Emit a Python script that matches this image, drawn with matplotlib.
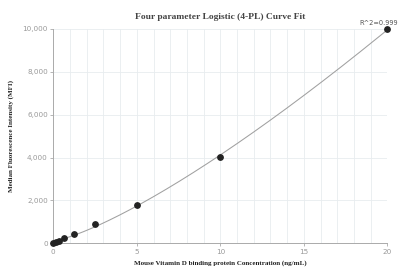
import numpy as np
import matplotlib
matplotlib.use('Agg')
import matplotlib.pyplot as plt

# standard concentrations (ng/mL) and measured MFI
conc = [0, 0.156, 0.3125, 0.625, 1.25, 2.5, 5, 10, 20]
mfi = [20, 60, 110, 250, 420, 910, 1800, 4020, 9980]
r2_label = 'R^2=0.999'

x_ticks = [0, 5, 10, 15, 20]
y_ticks = [0, 2000, 4000, 6000, 8000, 10000]


def fit_4pl(x, y):
    # grid over slope/midpoint, linear least squares for the asymptotes
    x = np.asarray(x, float)
    y = np.asarray(y, float)
    best = None
    for b in np.linspace(0.8, 3.0, 111):
        for c in np.logspace(0, 3, 151):
            g = 1.0 / (1.0 + (x / c) ** b)
            M = np.column_stack([g, 1 - g])
            coef, *_ = np.linalg.lstsq(M, y, rcond=None)
            err = np.sum((M @ coef - y) ** 2)
            if best is None or err < best[0]:
                best = (err, coef[0], b, c, coef[1])
    return best[1:]


a, b, c, d = fit_4pl(conc, mfi)
xs = np.linspace(0, max(conc), 300)
ys = d + (a - d) / (1 + (xs / c) ** b)

fig = plt.figure(figsize=(3.99, 2.70), dpi=100)
ax = fig.add_axes([0.1336, 0.0989, 0.8371, 0.7937])

ax.plot(xs, ys, color='#a0a0a0', lw=0.75, zorder=2)
ax.scatter(conc, mfi, s=15, color='#222222', zorder=3, clip_on=False)

ax.set_xlim(0, 20)
ax.set_ylim(0, 10000)
ax.set_xticks(x_ticks)
ax.set_xticks(np.arange(0, 21, 1), minor=True)
ax.set_yticks(y_ticks)
ax.set_yticklabels(['{:,}'.format(v) for v in y_ticks])
ax.grid(True, which='both', axis='x', color='#e8ecef', lw=0.6)
ax.grid(True, which='major', axis='y', color='#e8ecef', lw=0.6)
ax.set_axisbelow(True)

for s in ['top', 'right']:
    ax.spines[s].set_visible(False)
for s in ['left', 'bottom']:
    ax.spines[s].set_color('#aaaaaa')
    ax.spines[s].set_linewidth(0.7)
ax.tick_params(which='major', length=2.5, width=0.6, color='#aaaaaa',
               labelsize=5.2, labelcolor='#999999', pad=1.5)
ax.tick_params(which='minor', length=0)

ax.set_title('Four parameter Logistic (4-PL) Curve Fit', family='Liberation Serif',
             fontweight='bold', fontsize=6.8, color='#444444', pad=7)
ax.set_xlabel('Mouse Vitamin D binding protein Concentration (ng/mL)', family='Liberation Serif',
              fontweight='bold', fontsize=5, color='#222222', labelpad=4)
ax.set_ylabel('Median Fluorescence Intensity (MFI)', family='Liberation Serif',
              fontweight='bold', fontsize=5, color='#222222', labelpad=6)

fig.text(0.997, 0.905, r2_label, fontsize=4.8, color='#555555', ha='right', va='bottom')

fig.savefig('out.png', dpi=100)
